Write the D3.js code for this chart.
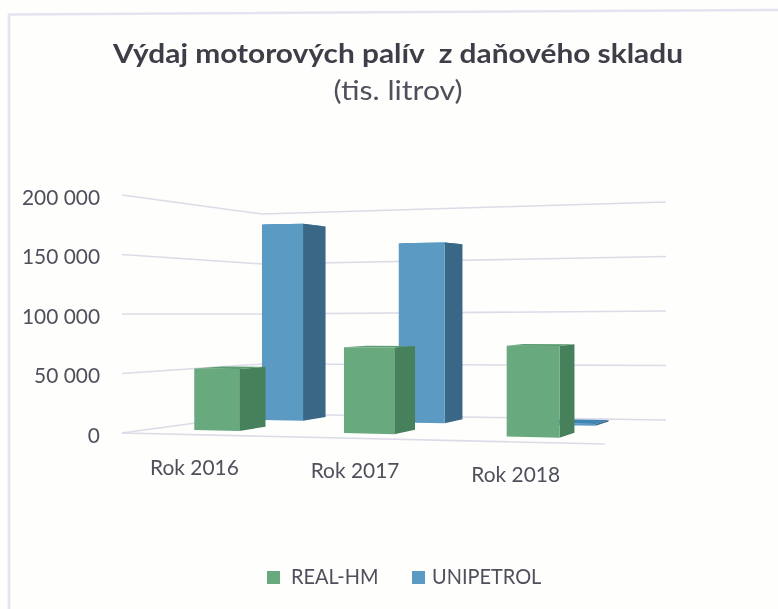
<!DOCTYPE html>
<html>
<head>
<meta charset="utf-8">
<script src="https://cdn.jsdelivr.net/npm/d3@7"></script>
<style>
  html, body { margin: 0; padding: 0; background: #fefefd; }
  svg { display: block; filter: blur(0.45px); }
  text { font-family: Lato, "Open Sans", sans-serif; fill: #50505c; }
</style>
</head>
<body>
<svg id="chart" width="778" height="609"></svg>
<script>
// Data
const categories = ["Rok 2016", "Rok 2017", "Rok 2018"];
const realHm = [53000, 72000, 74000];
const unipetrol = [184000, 164000, 1500];
const tickValues = [0, 50000, 100000, 150000, 200000];
const seriesNames = ["REAL-HM", "UNIPETROL"];

const maxValue = 200000;
const svg = d3.select("#chart");

// Corners of the 3D box on screen (floor and top, front and back)
const floor = {fl: [122, 433], bl: [262, 414], br: [666, 420], fr: [605, 444]};
const top_ = {fl: [122, 195], bl: [262, 214], br: [666, 202], fr: [605, 185]};

const lerp = (a, b, t) => a + (b - a) * t;
const bilinear = (c, u, d, i) =>
  lerp(lerp(c.fl[i], c.bl[i], d), lerp(c.fr[i], c.br[i], d), u);

let v = d3.scaleLinear().domain([0, maxValue]).range([0, 1]);

// u = across the chart, d = depth into the chart
function project(u, d, value) {
  let x = bilinear(floor, u, d, 0);
  let y = lerp(bilinear(floor, u, d, 1), bilinear(top_, u, d, 1), v(value));
  return [x, y];
}

// The scan is a bit stretched, so text gets fitted to the measured width
function fit(sel, factor) {
  sel.attr("textLength", function() { return this.getComputedTextLength() * factor; })
    .attr("lengthAdjust", "spacingAndGlyphs");
}

// Category bands, bent a little for the perspective
let band = d3.scaleBand().domain(categories).range([0, 1])
  .paddingInner(0.685).paddingOuter(0.3425);
let bend = d3.scalePow().exponent(1.1).domain([0, 1]).range([0, 1]);

// Back border of the scanned page
svg.append("path")
  .attr("d", "M9,609L9,14.5L778,10")
  .attr("fill", "none")
  .attr("stroke", "#e4e3f0")
  .attr("stroke-width", 2.5);

// Title
svg.append("text")
  .attr("x", 398).attr("y", 63)
  .attr("text-anchor", "middle")
  .attr("textLength", 570)
  .attr("lengthAdjust", "spacingAndGlyphs")
  .style("font-size", "27px").style("font-weight", 700)
  .style("fill", "#3e3e48")
  .style("white-space", "pre")
  .text("Výdaj motorových palív  z daňového skladu");

svg.append("text")
  .attr("x", 398).attr("y", 100)
  .attr("text-anchor", "middle")
  .attr("textLength", 129)
  .attr("lengthAdjust", "spacingAndGlyphs")
  .style("font-size", "27px")
  .text("(tis. litrov)");

// Gridlines: left wall then back wall
let line = d3.line();
svg.append("g").selectAll("path")
  .data(tickValues)
  .join("path")
    .attr("d", d => line([project(0, 0, d), project(0, 1, d), project(1, 1, d)]))
    .attr("fill", "none")
    .attr("stroke", "#dcdbe8")
    .attr("stroke-width", 1.6);

// Front edge of the floor
svg.append("path")
  .attr("d", line([project(0, 0, 0), project(1, 0, 0)]))
  .attr("fill", "none")
  .attr("stroke", "#dcdbe8")
  .attr("stroke-width", 1.6);

// Value axis along the front of the left wall
let y = d3.scaleLinear().domain([0, maxValue]).range([floor.fl[1], top_.fl[1]]);
let fmt = d3.formatLocale({decimal: ",", thousands: " ", grouping: [3], currency: ["", ""]}).format(",");
let yAxis = svg.append("g")
  .attr("transform", "translate(103,2)")
  .call(d3.axisLeft(y).tickValues(tickValues).tickSize(0).tickFormat(fmt));
yAxis.select(".domain").remove();
yAxis.selectAll("text")
  .style("font-family", "Lato, sans-serif")
  .style("font-size", "22px")
  .style("fill", "#50505c")
  .call(fit, 0.95);

// Category labels
let labelU = d3.scalePoint().domain(categories).range([0.15, 0.815]);
svg.append("g").selectAll("text")
  .data(categories)
  .join("text")
    .attr("x", d => project(labelU(d), 0, 0)[0])
    .attr("y", d => project(labelU(d), 0, 0)[1] + 40)
    .attr("text-anchor", "middle")
    .style("font-size", "22px")
    .text(d => d)
    .call(fit, 0.95);

// One 3D column: front, top and side faces
function drawBar(g, cat, value, d0, d1, cols) {
  let t0 = band(cat);
  let u0 = bend(t0), u1 = bend(t0 + band.bandwidth());
  let a = project(u0, d0, 0), b = project(u1, d0, 0);
  let c = project(u1, d0, value), e = project(u0, d0, value);
  let f = project(u1, d1, 0), h = project(u1, d1, value), i = project(u0, d1, value);
  g.append("path").attr("d", line([e, c, h, i]) + "Z").attr("fill", cols.top);
  g.append("path").attr("d", line([b, f, h, c]) + "Z").attr("fill", cols.side);
  g.append("path").attr("d", line([a, b, c, e]) + "Z").attr("fill", cols.front);
}

const green = {front: "#68a97e", side: "#47815c", top: "#5b9c72"};
const blue = {front: "#5b9ac3", side: "#3a6785", top: "#3f85b4"};

// Blue row stands behind the green row
let bars = svg.append("g");
categories.forEach((c, i) => drawBar(bars, c, unipetrol[i], 0.72, 0.9, blue));
categories.forEach((c, i) => drawBar(bars, c, realHm[i], 0.21, 0.42, green));

// Legend
let legendX = d3.scalePoint().domain(seriesNames).range([267, 412]);
let legend = svg.append("g").selectAll("g")
  .data(seriesNames)
  .join("g")
    .attr("transform", d => `translate(${legendX(d)},571)`);
legend.append("rect")
  .attr("width", 13).attr("height", 13)
  .attr("fill", (d, i) => i === 0 ? green.front : blue.front);
legend.append("text")
  .attr("x", (d, i) => i === 0 ? 24 : 20)
  .attr("y", 13)
  .style("font-size", "21px")
  .text(d => d)
  .call(fit, 0.95);
</script>
</body>
</html>
